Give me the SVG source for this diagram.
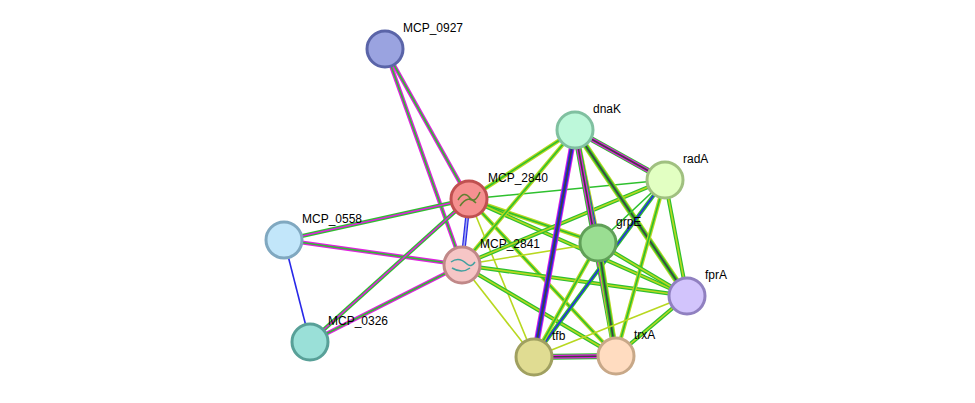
<svg xmlns="http://www.w3.org/2000/svg" width="975" height="403" viewBox="0 0 975 403">
<style>
.n{stroke-width:3}
.l{font-family:"Liberation Sans",Arial,sans-serif;font-size:12px;fill:#000}
line{fill:none}
.g{stroke:#2ec02e}.y{stroke:#b8d820}.m{stroke:#e020e0}.b{stroke:#2828e8}.k{stroke:#404040}
.w6{stroke-width:6}.w4{stroke-width:4}.w2{stroke-width:1.6}
</style>
<rect width="975" height="403" fill="#fff"/>
<g id="connectors">
<line x1="385" y1="49" x2="469" y2="199" class="m w4"/><line x1="385" y1="49" x2="469" y2="199" class="g w2"/>
<line x1="385" y1="49" x2="462" y2="265" class="m w4"/><line x1="385" y1="49" x2="462" y2="265" class="g w2"/>
<line x1="284" y1="240" x2="469" y2="199" class="g w4"/><line x1="284" y1="240" x2="469" y2="199" class="m w2"/>
<line x1="284" y1="240" x2="462" y2="265" class="m w4"/><line x1="284" y1="240" x2="462" y2="265" class="g w2"/>
<line x1="284" y1="240" x2="310" y2="342" class="b w2"/>
<line x1="310" y1="342" x2="469" y2="199" class="g w4"/><line x1="310" y1="342" x2="469" y2="199" class="m w2"/>
<line x1="310" y1="342" x2="462" y2="265" class="m w4"/><line x1="310" y1="342" x2="462" y2="265" class="g w2"/>
<line x1="469" y1="199" x2="462" y2="265" class="b w4"/><line x1="469" y1="199" x2="462" y2="265" stroke="#a0a8f0" stroke-width="1.6"/>
<line x1="469" y1="199" x2="575" y2="130" class="y w4"/><line x1="469" y1="199" x2="575" y2="130" class="g w2"/>
<line x1="469" y1="199" x2="665" y2="180" class="g w2"/>
<line x1="469" y1="199" x2="598" y2="243" class="y w4"/><line x1="469" y1="199" x2="598" y2="243" class="g w2"/>
<line x1="469" y1="199" x2="687" y2="296" class="g w4"/><line x1="469" y1="199" x2="687" y2="296" class="y w2"/>
<line x1="469" y1="199" x2="534" y2="357" class="y w2"/>
<line x1="469" y1="199" x2="616" y2="356" class="y w4"/><line x1="469" y1="199" x2="616" y2="356" class="g w2"/>
<line x1="462" y1="265" x2="575" y2="130" class="y w4"/><line x1="462" y1="265" x2="575" y2="130" class="g w2"/>
<line x1="462" y1="265" x2="665" y2="180" class="g w4"/><line x1="462" y1="265" x2="665" y2="180" class="y w2"/>
<line x1="462" y1="265" x2="598" y2="243" class="y w2"/>
<line x1="462" y1="265" x2="687" y2="296" class="g w4"/><line x1="462" y1="265" x2="687" y2="296" class="y w2"/>
<line x1="462" y1="265" x2="534" y2="357" class="y w2"/>
<line x1="462" y1="265" x2="616" y2="356" class="g w4"/><line x1="462" y1="265" x2="616" y2="356" class="y w2"/>
<line x1="575" y1="130" x2="665" y2="180" class="g w6"/><line x1="575" y1="130" x2="665" y2="180" class="m w4"/><line x1="575" y1="130" x2="665" y2="180" class="k w2"/>
<line x1="575" y1="130" x2="598" y2="243" class="y w6"/><line x1="575" y1="130" x2="598" y2="243" class="b w4"/><line x1="575" y1="130" x2="598" y2="243" class="m w2"/>
<line x1="575" y1="130" x2="534" y2="357" class="m w6"/><line x1="575" y1="130" x2="534" y2="357" class="b w4"/><line x1="575" y1="130" x2="534" y2="357" class="k w2"/>
<line x1="575" y1="130" x2="616" y2="356" class="g w6"/><line x1="575" y1="130" x2="616" y2="356" class="m w4"/><line x1="575" y1="130" x2="616" y2="356" class="k w2"/>
<line x1="575" y1="130" x2="687" y2="296" class="y w6"/><line x1="575" y1="130" x2="687" y2="296" class="g w4"/><line x1="575" y1="130" x2="687" y2="296" class="k w2"/>
<line x1="665" y1="180" x2="598" y2="243" class="g w2"/>
<line x1="665" y1="180" x2="534" y2="357" class="g w4"/><line x1="665" y1="180" x2="534" y2="357" class="b w2"/>
<line x1="665" y1="180" x2="616" y2="356" class="y w4"/><line x1="665" y1="180" x2="616" y2="356" class="g w2"/>
<line x1="665" y1="180" x2="687" y2="296" class="g w4"/><line x1="665" y1="180" x2="687" y2="296" class="y w2"/>
<line x1="598" y1="243" x2="687" y2="296" class="g w4"/><line x1="598" y1="243" x2="687" y2="296" class="y w2"/>
<line x1="598" y1="243" x2="616" y2="356" class="y w6"/><line x1="598" y1="243" x2="616" y2="356" class="g w4"/><line x1="598" y1="243" x2="616" y2="356" class="k w2"/>
<line x1="598" y1="243" x2="534" y2="357" class="y w4"/><line x1="598" y1="243" x2="534" y2="357" class="g w2"/>
<line x1="687" y1="296" x2="534" y2="357" class="y w2"/>
<line x1="687" y1="296" x2="616" y2="356" class="g w4"/><line x1="687" y1="296" x2="616" y2="356" class="y w2"/>
<line x1="534" y1="357" x2="616" y2="356" class="g w6"/><line x1="534" y1="357" x2="616" y2="356" class="m w4"/><line x1="534" y1="357" x2="616" y2="356" class="k w2"/>
</g>
<g id="MCP_0927"><circle cx="385" cy="49" r="18" fill="#9aa3e0" stroke="#5a64a8" class="n"/><text x="403" y="32" class="l">MCP_0927</text></g>
<g id="dnaK"><circle cx="575" cy="130" r="18" fill="#bdf8da" stroke="#80c0a0" class="n"/><text x="593" y="113" class="l">dnaK</text></g>
<g id="radA"><circle cx="665" cy="180" r="18" fill="#e2ffc2" stroke="#a0c080" class="n"/><text x="683" y="163" class="l">radA</text></g>
<g id="MCP_2840"><circle cx="469" cy="199" r="18" fill="#f59090" stroke="#c05050" class="n"/><path d="M458 200 q6 -10 12 -2 q5 6 10 -6 M460 206 q8 -12 16 -3" stroke="#608030" fill="none" stroke-width="1.5"/><text x="488" y="182" class="l">MCP_2840</text></g>
<g id="MCP_0558"><circle cx="284" cy="240" r="18" fill="#c2e6fa" stroke="#80a8c0" class="n"/><text x="302" y="223" class="l">MCP_0558</text></g>
<g id="grpE"><circle cx="598" cy="243" r="18" fill="#9ade92" stroke="#60a058" class="n"/><text x="616" y="226" class="l">grpE</text></g>
<g id="MCP_2841"><circle cx="462" cy="265" r="18" fill="#f6c6c6" stroke="#c08888" class="n"/><path d="M451 262 q8 -6 16 2 q4 4 8 -2 M452 268 q10 6 18 0" stroke="#40a0a0" fill="none" stroke-width="1.5"/><text x="480" y="248" class="l">MCP_2841</text></g>
<g id="fprA"><circle cx="687" cy="296" r="18" fill="#d2c4fc" stroke="#9080c0" class="n"/><text x="705" y="279" class="l">fprA</text></g>
<g id="MCP_0326"><circle cx="310" cy="342" r="18" fill="#9ae0d8" stroke="#58a098" class="n"/><text x="328" y="325" class="l">MCP_0326</text></g>
<g id="tfb"><circle cx="534" cy="357" r="18" fill="#e0dc92" stroke="#a0a060" class="n"/><text x="552" y="340" class="l">tfb</text></g>
<g id="trxA"><circle cx="616" cy="356" r="18" fill="#ffdcc0" stroke="#c8a888" class="n"/><text x="634" y="339" class="l">trxA</text></g>
</svg>
